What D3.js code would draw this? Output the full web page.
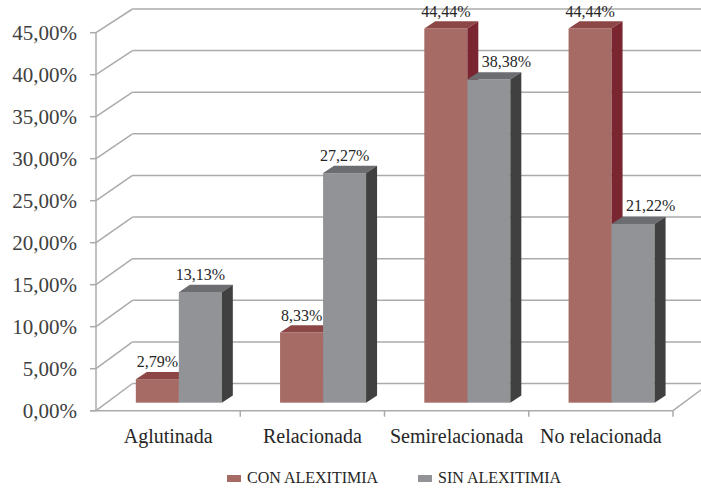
<!DOCTYPE html>
<html>
<head>
<meta charset="utf-8">
<script src="https://cdn.jsdelivr.net/npm/d3@7"></script>
<style>
  body { margin: 0; background: #fff; }
  svg, svg text { font-family: "Liberation Serif", "DejaVu Serif", "Times New Roman", serif; }
</style>
</head>
<body>
<script>
const categories = ["Aglutinada", "Relacionada", "Semirelacionada", "No relacionada"];
const seriesNames = ["CON ALEXITIMIA", "SIN ALEXITIMIA"];
const conAlexitimia = [2.79, 8.33, 44.44, 44.44];
const sinAlexitimia = [13.13, 27.27, 38.38, 21.22];
const yTicks = [0, 5, 10, 15, 20, 25, 30, 35, 40, 45];

const width = 701, height = 488;
const fmt = v => v.toFixed(2).replace(".", ",") + "%";

// colours per series: front, top, side
const colors = {
  "CON ALEXITIMIA": { front: "#a66b64", top: "#8d4646", side: "#7a2630" },
  "SIN ALEXITIMIA": { front: "#929396", top: "#6c6d70", side: "#404040" }
};

const x = d3.scaleBand().domain(categories).range([96, 673]);
const yFront = d3.scaleLinear().domain([0, 45]).range([410.7, 32.7]); // front plane
const yBack = d3.scaleLinear().domain([0, 45]).range([383.5, 9]);     // back wall
const yBar = d3.scaleLinear().domain([0, 45]).range([402.7, 23.8]);   // bars sit a bit behind front
const backDx = 36.5;
const barW = 43, barOff = 10.7, barDx = 11, barDy = 7.3;
const sub = d3.scaleBand().domain(seriesNames).range([0, 2 * barW]);

const data = categories.map((c, i) => ({
  cat: c,
  values: [
    { key: seriesNames[0], value: conAlexitimia[i], other: sinAlexitimia[i] },
    { key: seriesNames[1], value: sinAlexitimia[i], other: conAlexitimia[i] }
  ]
}));

const svg = d3.select("body").append("svg")
    .attr("width", width)
    .attr("height", height);

const grid = svg.append("g")
    .attr("stroke", "#ababab")
    .attr("stroke-width", 1.5)
    .attr("fill", "none");

// back wall gridlines
grid.selectAll(".back")
  .data(yTicks)
  .join("line")
    .attr("x1", 96 + backDx)
    .attr("x2", 720)
    .attr("y1", d => yBack(d))
    .attr("y2", d => yBack(d));

// left wall diagonals
grid.selectAll(".side")
  .data(yTicks)
  .join("line")
    .attr("x1", 96)
    .attr("x2", 96 + backDx)
    .attr("y1", d => yFront(d))
    .attr("y2", d => yBack(d));

// front y axis + ticks
grid.append("line")
    .attr("x1", 96).attr("x2", 96)
    .attr("y1", yFront(0)).attr("y2", yFront(45));
grid.selectAll(".ytick")
  .data(yTicks)
  .join("line")
    .attr("x1", 90).attr("x2", 96)
    .attr("y1", d => yFront(d)).attr("y2", d => yFront(d));

// floor front edge, right edge and category ticks
grid.append("line")
    .attr("x1", 90).attr("x2", 673)
    .attr("y1", yFront(0)).attr("y2", yFront(0));
grid.append("line")
    .attr("x1", 673).attr("x2", 673 + backDx)
    .attr("y1", yFront(0)).attr("y2", yBack(0));
grid.selectAll(".xtick")
  .data(categories)
  .join("line")
    .attr("x1", d => x(d) + x.bandwidth())
    .attr("x2", d => x(d) + x.bandwidth())
    .attr("y1", yFront(0))
    .attr("y2", yFront(0) + 6);

// y tick labels
svg.append("g")
    .attr("fill", "#404040")
    .attr("font-size", 21)
    .attr("text-anchor", "end")
  .selectAll("text")
  .data(yTicks)
  .join("text")
    .attr("x", 77)
    .attr("y", d => yFront(d) + 7.5)
    .text(d => fmt(d));

// category labels
svg.append("g")
    .attr("fill", "#262626")
    .attr("font-size", 20)
    .attr("text-anchor", "middle")
  .selectAll("text")
  .data(categories)
  .join("text")
    .attr("x", d => x(d) + x.bandwidth() / 2)
    .attr("y", 442.7)
    .text(d => d);

const barX = (cat, key) => x(cat) + x.bandwidth() / 2 - barW + sub(key) + barOff;

// bars: front, top and side faces
const groups = svg.append("g")
  .selectAll("g")
  .data(data)
  .join("g");

const bars = groups.selectAll("g")
  .data(d => d.values.map(v => ({ ...v, cat: d.cat })))
  .join("g");

bars.append("rect")
    .attr("x", d => barX(d.cat, d.key))
    .attr("y", d => yBar(d.value))
    .attr("width", barW)
    .attr("height", d => yBar(0) - yBar(d.value))
    .attr("fill", d => colors[d.key].front);

bars.append("path")
    .attr("fill", d => colors[d.key].top)
    .attr("d", d => {
      const x0 = barX(d.cat, d.key), yt = yBar(d.value);
      return `M${x0},${yt}H${x0 + barW}l${barDx},${-barDy}H${x0 + barDx}z`;
    });

bars.append("path")
    .attr("fill", d => colors[d.key].side)
    .attr("d", d => {
      const x1 = barX(d.cat, d.key) + barW, yt = yBar(d.value), yb = yBar(0);
      return `M${x1},${yt}l${barDx},${-barDy}V${yb - barDy}L${x1},${yb}z`;
    });

// data labels; grey labels hidden behind a taller red bar move right of its side
const shifted = d => d.key === seriesNames[1] && d.other > d.value;

svg.append("g")
    .attr("fill", "#262626")
    .attr("font-size", 16)
  .selectAll("text")
  .data(data.flatMap(d => d.values.map(v => ({ ...v, cat: d.cat }))))
  .join("text")
    .attr("text-anchor", d => shifted(d) ? "start" : "middle")
    .attr("x", d => shifted(d) ? barX(d.cat, d.key) + barDx + 3.5 : barX(d.cat, d.key) + barW / 2)
    .attr("y", d => yBar(d.value) - barDy - (shifted(d) ? 5.5 : 4.5))
    .text(d => fmt(d.value));

// legend
const legend = svg.append("g")
  .selectAll("g")
  .data(seriesNames)
  .join("g")
    .attr("transform", (d, i) => `translate(${[227, 418][i]},475)`);

legend.append("rect")
    .attr("width", 14)
    .attr("height", 7)
    .attr("fill", d => colors[d].front);

legend.append("text")
    .attr("x", 20)
    .attr("y", 8)
    .attr("font-size", 16)
    .attr("fill", "#262626")
    .text(d => d);
</script>
</body>
</html>
